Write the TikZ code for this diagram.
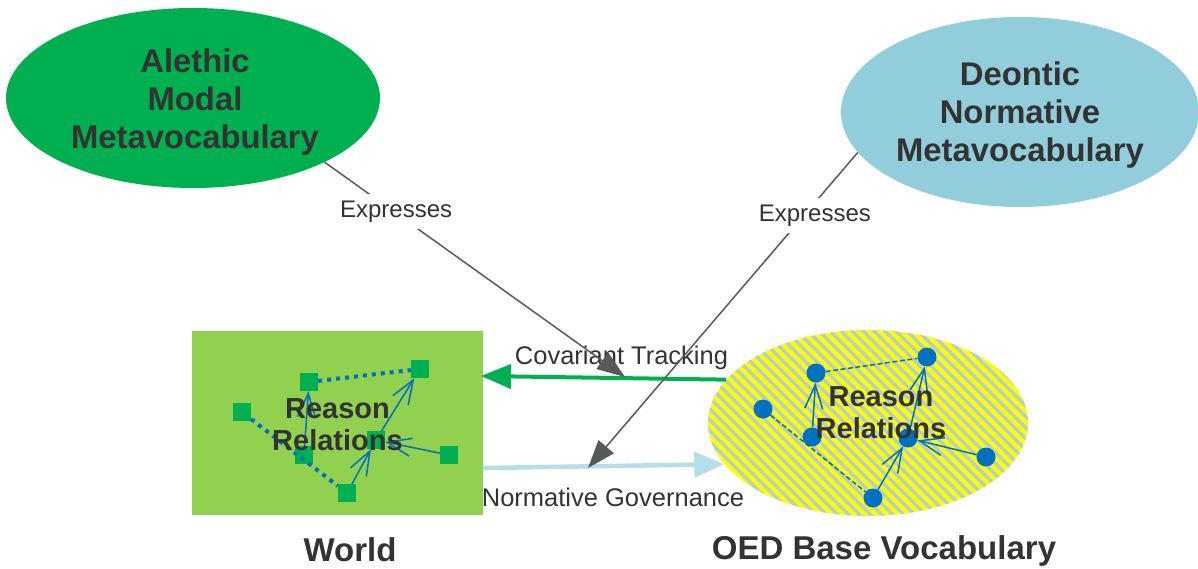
\documentclass[tikz,border=0pt]{standalone}
\usepackage{fontspec}
\setmainfont{Liberation Sans}
\usetikzlibrary{arrows.meta,shapes.geometric}
\definecolor{agreen}{RGB}{0,176,80}
\definecolor{lgreen}{RGB}{146,208,80}
\definecolor{dblue}{RGB}{146,205,220}
\definecolor{nblue}{RGB}{183,221,232}
\definecolor{rblue}{RGB}{0,112,192}
\definecolor{txt}{RGB}{51,51,51}
\definecolor{gline}{RGB}{89,89,89}
\definecolor{stripe}{RGB}{182,206,204}
\definecolor{yel}{RGB}{255,255,0}
\begin{document}
\begin{tikzpicture}[x=1pt,y=-1pt,
  title/.style={font=\fontsize{32.8}{38}\selectfont\bfseries, text=txt, align=center},
  rr/.style={font=\fontsize{29}{32}\selectfont\bfseries, text=txt, align=center},
  bottomlbl/.style={font=\fontsize{33}{38}\selectfont\bfseries, text=txt, anchor=base},
  lbl/.style={font=\fontsize{25.5}{30}\selectfont, text=txt, anchor=base},
  expl/.style={font=\fontsize{24}{28}\selectfont, text=txt, fill=white, inner sep=7pt},
  expr/.style={draw=gline, line width=1.5pt, -{Triangle[length=28pt,width=20pt]}},
  sq/.style={rectangle, fill=agreen, minimum size=18pt, inner sep=0pt},
  bdot/.style={circle, fill=rblue, minimum size=19pt, inner sep=0pt},
  rel/.style={draw=rblue, line width=1.5pt, -{Straight Barb[length=24pt,width=18pt]}},
  thickdot/.style={draw=rblue, line width=4pt, dash pattern=on 4pt off 5pt},
  thindash/.style={draw=rblue, line width=1.5pt, dash pattern=on 5pt off 2.5pt}
]
\useasboundingbox (0,0) rectangle (1198,569);

% big shapes
\node[ellipse, fill=agreen, minimum width=374pt, minimum height=180pt, inner sep=0pt] (alethic) at (193,98) {};
\node[ellipse, fill=dblue, minimum width=358pt, minimum height=190pt, inner sep=0pt] (deontic) at (1020,112) {};
\node[rectangle, fill=lgreen, minimum width=291pt, minimum height=184pt, inner sep=0pt] (world) at (337.5,423) {};
\node[ellipse, fill=yel, minimum width=320pt, minimum height=186pt, inner sep=0pt] (oed) at (868,423) {};
\begin{scope}
  \clip (868,423) ellipse [x radius=160, y radius=93];
  \foreach \i in {0,...,52} \draw[stripe, line width=3.5pt] ({500+\i*11},320) -- ++(215,215);
\end{scope}

% titles
\node[title] (alethicT) at (195,102) {Alethic\\Modal\\Metavocabulary};
\node[title] (deonticT) at (1020,115) {Deontic\\Normative\\Metavocabulary};

% world graph
\node[sq] (s1) at (309,382) {};
\node[sq] (s2) at (420,369) {};
\node[sq] (s3) at (242,412) {};
\node[sq] (s4) at (304,455) {};
\node[sq] (s5) at (376,440) {};
\node[sq] (s6) at (449,455) {};
\node[sq] (s7) at (347,493) {};
\draw[thickdot] (s1) -- (s2);
\draw[thickdot] (s3) -- (s7);
\draw[rel] (s4) -- (s1);
\draw[rel] (s5) -- (s2);
\draw[rel] (s7) -- (s5);
\draw[rel] (s6) -- (s5);
\node[rr] (rrw) at (337.5,424.6) {Reason\\Relations};

% oed graph
\node[bdot] (d1) at (816,373) {};
\node[bdot] (d2) at (927,357) {};
\node[bdot] (d3) at (763,409) {};
\node[bdot] (d4) at (812,437) {};
\node[bdot] (d5) at (908,438) {};
\node[bdot] (d6) at (986,457) {};
\node[bdot] (d7) at (873,498) {};
\draw[thindash] (d1) -- (d2);
\draw[thindash] (d3) -- (d7);
\draw[rel] (d4) -- (d1);
\draw[rel] (d5) -- (d2);
\draw[rel] (d7) -- (d5);
\draw[rel] (d6) -- (d5);
\node[rr] (rro) at (881,412.6) {Reason\\Relations};

% main arrows
\coordinate (gE) at (481,376);
\coordinate (bS) at (483,468);
\draw[draw=agreen, line width=4pt, -{Triangle[length=30pt,width=24pt]}] (oed.163) -- (gE);
\draw[draw=nblue, line width=4.5pt, -{Triangle[length=30pt,width=25pt]}] (bS) -- (oed.196);
\node[lbl] (covL) at (621.5,364) {Covariant Tracking};
\node[lbl] (normL) at (613,506) {Normative Governance};

% expresses
\coordinate (t1) at (625,377);
\coordinate (t2) at (588,468);
\draw[expr] (alethic.-26.6) -- node[expl, pos=0.23, xshift=2.5pt] (ex1) {Expresses} (t1);
\draw[expr] (deontic.194.3) -- node[expl, pos=0.2, xshift=11pt] (ex2) {Expresses} (t2);

% bottom labels
\node[bottomlbl] (worldL) at (350,561) {World};
\node[bottomlbl] (oedL) at (884,559) {OED Base Vocabulary};
\end{tikzpicture}
\end{document}
